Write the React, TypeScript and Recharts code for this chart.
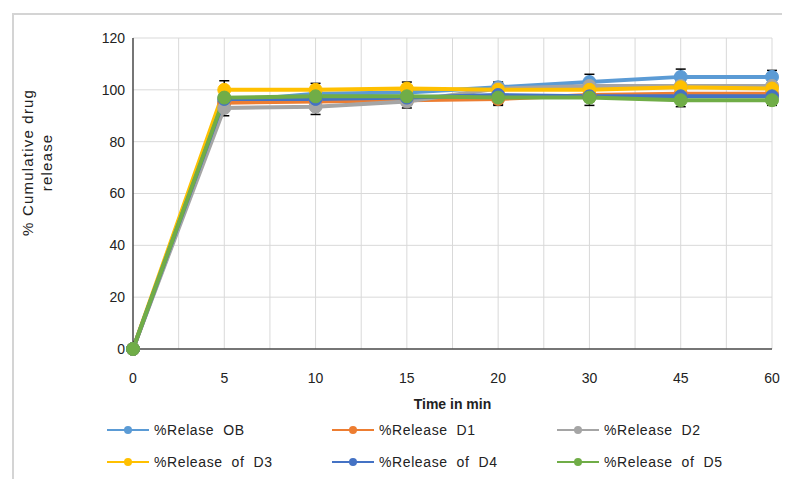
import React from 'react';
import { LineChart, Line, XAxis, YAxis, CartesianGrid, ErrorBar, Legend } from 'recharts';

const timeLabels = ['0', '5', '10', '15', '20', '30', '45', '60'];
const yTicks = [0, 20, 40, 60, 80, 100, 120];

const releaseOB = [0, 95.5, 98.5, 99, 101, 103, 105, 105];
const releaseD1 = [0, 95, 95.5, 96, 96.5, 98, 98.5, 98.5];
const releaseD2 = [0, 93, 93.5, 95.5, 100.5, 101.5, 101.5, 101.5];
const releaseD3 = [0, 100, 100, 100.5, 100, 100, 101, 100.5];
const releaseD4 = [0, 96.5, 96.5, 97, 98, 97.5, 97.5, 97.5];
const releaseD5 = [0, 97, 97.5, 97.5, 97, 97, 96, 96];

const errOB = [0, 2.5, 2.5, 2.5, 2, 3, 3, 2.5];
const errD1 = [0, 2, 2, 2, 2, 2, 2, 2];
const errD2 = [0, 3, 3, 2.5, 2, 2, 2, 2];
const errD3 = [0, 3.5, 2.5, 2.5, 2, 2, 2, 2];
const errD4 = [0, 2, 2, 2, 2, 2, 2, 2];
const errD5 = [0, 2, 2, 2, 3, 3, 2.5, 2];

const seriesNames = ['%Relase  OB', '%Release  D1', '%Release  D2', '%Release  of  D3', '%Release  of  D4', '%Release  of  D5'];
const seriesKeys = ['ob', 'd1', 'd2', 'd3', 'd4', 'd5'];
const seriesColors = ['#5B9BD5', '#ED7D31', '#A5A5A5', '#FFC000', '#4472C4', '#70AD47'];
const seriesValues = [releaseOB, releaseD1, releaseD2, releaseD3, releaseD4, releaseD5];
const seriesErrors = [errOB, errD1, errD2, errD3, errD4, errD5];

const data = timeLabels.map((t, i) => {
  const row: any = { idx: i, time: t };
  seriesKeys.forEach((k, s) => {
    row[k] = seriesValues[s][i];
    row[k + 'Err'] = seriesErrors[s][i];
  });
  return row;
});

const mainTicks = timeLabels.map((_, i) => i);
const halfTicks = timeLabels.flatMap((_, i) => (i < timeLabels.length - 1 ? [i, i + 0.5] : [i]));

const FONT = '"Liberation Sans", Arial, sans-serif';
const TEXT = '#222';

const renderLegend = (props: any) => {
  const payload = props.payload || [];
  return (
    <div style={{ display: 'flex', flexWrap: 'wrap', paddingLeft: 99, width: 700, fontFamily: FONT }}>
      {payload.map((p: any) => (
        <div key={p.value} style={{ width: 225, height: 32, display: 'flex', alignItems: 'center' }}>
          <svg width={42} height={12} style={{ display: 'block' }}>
            <line x1={0} y1={6} x2={42} y2={6} stroke={p.color} strokeWidth={2} />
            <circle cx={21} cy={6} r={4} fill={p.color} />
          </svg>
          <span style={{ marginLeft: 5, fontSize: 14, color: TEXT, letterSpacing: 0.6, whiteSpace: 'pre' }}>{p.value}</span>
        </div>
      ))}
    </div>
  );
};

const YTitle = (props: any) => {
  const vb = props.viewBox || { x: 0, y: 0, width: 0, height: 0 };
  const cy = vb.y + vb.height * 0.4;
  const x1 = 20;
  const x2 = 39;
  return (
    <g>
      <text x={x1} y={cy} transform={`rotate(-90, ${x1}, ${cy})`} textAnchor="middle" dominantBaseline="central" fontSize={15} letterSpacing={1.2} fontFamily={FONT} fill={TEXT}>% Cumulative drug</text>
      <text x={x2} y={cy} transform={`rotate(-90, ${x2}, ${cy})`} textAnchor="middle" dominantBaseline="central" fontSize={15} letterSpacing={1.2} fontFamily={FONT} fill={TEXT}>release</text>
    </g>
  );
};

const XTitle = (props: any) => {
  const vb = props.viewBox || { x: 0, y: 0, width: 0, height: 0 };
  return (
    <text x={vb.x + vb.width / 2} y={vb.y + 55} textAnchor="middle" dominantBaseline="central" fontSize={14} fontWeight="bold" fontFamily={FONT} fill={TEXT}>Time in min</text>
  );
};

export default function App() {
  return (
    <div style={{ position: 'relative', width: 782, height: 471, overflow: 'hidden', background: '#fff' }}>
      <div style={{ position: 'absolute', left: 4, top: 5, width: 900, height: 600, borderLeft: '2px solid #d4d4d4', borderTop: '2px solid #d4d4d4', boxSizing: 'border-box' }} />
      <div style={{ position: 'absolute', left: 0, top: 0 }}>
        <LineChart width={782} height={471} data={data} margin={{ top: 30, right: 18, bottom: 1, left: 0 }}>
          <CartesianGrid xAxisId="half" stroke="#d9d9d9" strokeWidth={1} />
          <XAxis
            dataKey="idx"
            type="number"
            domain={[0, timeLabels.length - 1]}
            ticks={mainTicks}
            tickFormatter={(v: number) => timeLabels[v]}
            axisLine={{ stroke: '#000', strokeWidth: 1 }}
            tickLine={false}
            tickMargin={18}
            height={65}
            tick={{ fontSize: 14, fill: TEXT, fontFamily: FONT }}
            label={<XTitle />}
          />
          <XAxis xAxisId="half" type="number" domain={[0, timeLabels.length - 1]} ticks={halfTicks} hide />
          <YAxis
            domain={[0, 120]}
            ticks={yTicks}
            width={125}
            axisLine={{ stroke: '#000', strokeWidth: 1 }}
            tickLine={false}
            tick={{ fontSize: 14, fill: TEXT, fontFamily: FONT }}
            label={<YTitle />}
          />
          <Legend verticalAlign="bottom" align="left" content={renderLegend} />
          {seriesKeys.map((k, s) => (
            <Line
              key={k}
              type="linear"
              dataKey={k}
              name={seriesNames[s]}
              stroke={seriesColors[s]}
              strokeWidth={4}
              dot={{ r: 6.5, fill: seriesColors[s], stroke: seriesColors[s], strokeWidth: 1 }}
              isAnimationActive={false}
            >
              <ErrorBar dataKey={k + 'Err'} direction="y" width={5} stroke="#000" strokeWidth={1.5} />
            </Line>
          ))}
        </LineChart>
      </div>
    </div>
  );
}
